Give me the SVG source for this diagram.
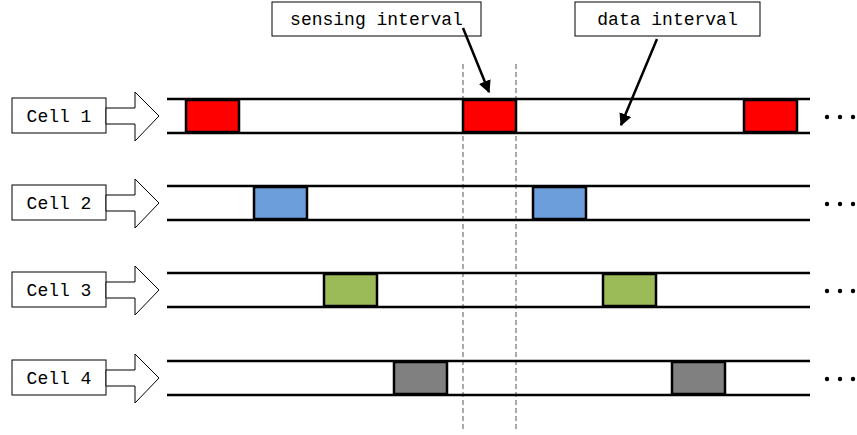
<svg xmlns="http://www.w3.org/2000/svg" width="857" height="435" viewBox="0 0 857 435">
<defs>
<style>
.lbl{fill:#fff;stroke:#000;stroke-width:1}
.txt{font-family:"Liberation Mono",monospace;font-size:18px;fill:#000}
.lane{stroke:#000;stroke-width:2.5}
.slot{stroke:#000;stroke-width:2.5}
.dash{stroke:#555;stroke-width:1;stroke-dasharray:5,3}
.ptr{stroke:#000;stroke-width:2.5;fill:none}
.dot{fill:#000}
</style>
<marker id="ah" viewBox="0 0 10 10" refX="9" refY="5" markerWidth="5" markerHeight="5" orient="auto" markerUnits="strokeWidth">
<path d="M0,0 L10,5 L0,10 z" fill="#000"/>
</marker>
<path id="bigArrow" d="M0,10 H29 V-6 L53,18 L29,43 V26 H0 Z" fill="#fff" stroke="#000" stroke-width="1"/>
</defs>
<rect width="857" height="435" fill="#fff"/>
<g id="guides">
<line class="dash" x1="463" y1="64" x2="463" y2="432"/>
<line class="dash" x1="516" y1="64" x2="516" y2="432"/>
</g>
<g id="cell1">
<rect class="lbl" x="12" y="98" width="94" height="35"/>
<text class="txt" x="59" y="122" text-anchor="middle">Cell 1</text>
<use href="#bigArrow" x="106" y="98"/>
<line class="lane" x1="167" y1="99" x2="810" y2="99"/>
<line class="lane" x1="167" y1="133" x2="810" y2="133"/>
<rect class="slot" x="186" y="100" width="53" height="32" fill="#ff0000"/>
<rect class="slot" x="463" y="100" width="53" height="32" fill="#ff0000"/>
<rect class="slot" x="744" y="100" width="53" height="32" fill="#ff0000"/>
<circle class="dot" cx="827" cy="117" r="2.2"/><circle class="dot" cx="840" cy="117" r="2.2"/><circle class="dot" cx="853" cy="117" r="2.2"/>
</g>
<g id="cell2">
<rect class="lbl" x="12" y="185" width="94" height="35"/>
<text class="txt" x="59" y="209" text-anchor="middle">Cell 2</text>
<use href="#bigArrow" x="106" y="185"/>
<line class="lane" x1="167" y1="186" x2="810" y2="186"/>
<line class="lane" x1="167" y1="220" x2="810" y2="220"/>
<rect class="slot" x="254" y="187" width="53" height="32" fill="#6d9edc"/>
<rect class="slot" x="533" y="187" width="53" height="32" fill="#6d9edc"/>
<circle class="dot" cx="827" cy="204" r="2.2"/><circle class="dot" cx="840" cy="204" r="2.2"/><circle class="dot" cx="853" cy="204" r="2.2"/>
</g>
<g id="cell3">
<rect class="lbl" x="12" y="272" width="94" height="35"/>
<text class="txt" x="59" y="296" text-anchor="middle">Cell 3</text>
<use href="#bigArrow" x="106" y="272"/>
<line class="lane" x1="167" y1="273" x2="810" y2="273"/>
<line class="lane" x1="167" y1="307" x2="810" y2="307"/>
<rect class="slot" x="324" y="274" width="53" height="32" fill="#9bbb59"/>
<rect class="slot" x="603" y="274" width="53" height="32" fill="#9bbb59"/>
<circle class="dot" cx="827" cy="291" r="2.2"/><circle class="dot" cx="840" cy="291" r="2.2"/><circle class="dot" cx="853" cy="291" r="2.2"/>
</g>
<g id="cell4">
<rect class="lbl" x="12" y="360" width="94" height="35"/>
<text class="txt" x="59" y="384" text-anchor="middle">Cell 4</text>
<use href="#bigArrow" x="106" y="360"/>
<line class="lane" x1="167" y1="361" x2="810" y2="361"/>
<line class="lane" x1="167" y1="395" x2="810" y2="395"/>
<rect class="slot" x="394" y="362" width="53" height="32" fill="#808080"/>
<rect class="slot" x="672" y="362" width="53" height="32" fill="#808080"/>
<circle class="dot" cx="827" cy="379" r="2.2"/><circle class="dot" cx="840" cy="379" r="2.2"/><circle class="dot" cx="853" cy="379" r="2.2"/>
</g>
<g id="sensing">
<rect class="lbl" x="272" y="2" width="209" height="34"/>
<text class="txt" x="376.5" y="25" text-anchor="middle">sensing interval</text>
</g>
<g id="data">
<rect class="lbl" x="575" y="2" width="185" height="34"/>
<text class="txt" x="667.5" y="25" text-anchor="middle">data interval</text>
</g>
<g id="connectors">
<line class="ptr" x1="463" y1="28" x2="489" y2="92" marker-end="url(#ah)"/>
<line class="ptr" x1="657" y1="39" x2="621" y2="125" marker-end="url(#ah)"/>
</g>
</svg>
